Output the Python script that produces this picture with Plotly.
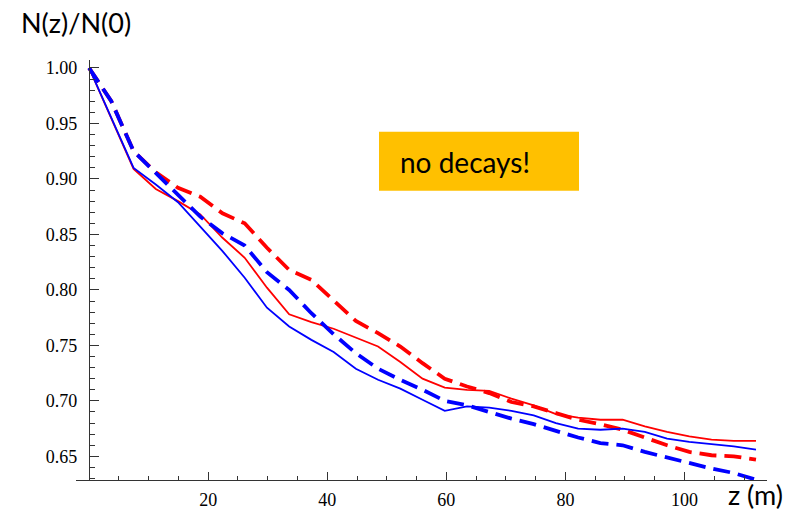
import plotly.graph_objects as go

# ---- data ----
z_m = [0, 3.73, 7.47, 11.2, 14.93, 18.67, 22.4, 26.13, 29.87, 33.6, 37.33,
       41.07, 44.8, 48.53, 52.27, 56.0, 59.73, 63.47, 67.2, 70.93, 74.67,
       78.4, 82.13, 85.87, 89.6, 93.33, 97.07, 100.8, 104.53, 108.27, 112.0]

blue_solid = [1.0, 0.955, 0.910, 0.895, 0.879, 0.857, 0.835, 0.811, 0.784, 0.767, 0.755,
              0.744, 0.729, 0.719, 0.711, 0.701, 0.691, 0.695, 0.694, 0.691, 0.687,
              0.680, 0.675, 0.674, 0.675, 0.672, 0.666, 0.663, 0.661, 0.659, 0.656]

red_solid = [1.0, 0.955, 0.909, 0.891, 0.880, 0.868, 0.847, 0.829, 0.802, 0.778, 0.771,
             0.765, 0.757, 0.749, 0.735, 0.720, 0.712, 0.710, 0.709, 0.702, 0.696,
             0.688, 0.685, 0.683, 0.683, 0.677, 0.672, 0.668, 0.665, 0.664, 0.664]

blue_dashed = [1.0, 0.970, 0.925, 0.905, 0.885, 0.866, 0.851, 0.840, 0.816, 0.800, 0.779,
               0.760, 0.743, 0.729, 0.719, 0.710, 0.700, 0.696, 0.690, 0.684, 0.679,
               0.673, 0.667, 0.662, 0.660, 0.654, 0.649, 0.644, 0.639, 0.635, 0.629]

red_dashed = [1.0, 0.970, 0.925, 0.906, 0.892, 0.884, 0.869, 0.860, 0.838, 0.818, 0.809,
              0.790, 0.772, 0.761, 0.749, 0.734, 0.720, 0.713, 0.707, 0.699, 0.695,
              0.689, 0.683, 0.679, 0.674, 0.667, 0.660, 0.654, 0.651, 0.650, 0.647]

x_ticks = [20, 40, 60, 80, 100]
y_ticks = [0.65, 0.70, 0.75, 0.80, 0.85, 0.90, 0.95, 1.00]
y_ticktext = ["0.65", "0.70", "0.75", "0.80", "0.85", "0.90", "0.95", "1.00"]

# ---- layout constants ----
W, H = 800, 513
ML, MR, MT, MB = 76, 33, 60, 33
XR = [-2.2, 113.85]
YR = [0.6287, 1.0072]
PW = W - ML - MR
PH = H - MT - MB


def px_to_paper(px, py):
    return (px - ML) / PW, (H - MB - py) / PH


fig = go.Figure()
fig.add_trace(go.Scatter(x=z_m, y=red_solid, mode="lines",
                         line=dict(color="#FF0000", width=1.8)))
fig.add_trace(go.Scatter(x=z_m, y=red_dashed, mode="lines",
                         line=dict(color="#FF0000", width=3.8, dash="17px,8px")))
fig.add_trace(go.Scatter(x=z_m, y=blue_solid, mode="lines",
                         line=dict(color="#0000FF", width=1.8)))
fig.add_trace(go.Scatter(x=z_m, y=blue_dashed, mode="lines",
                         line=dict(color="#0000FF", width=3.8, dash="17px,8px")))

tick_font = dict(family="'Liberation Serif', 'Times New Roman', serif", size=18, color="black")
axis_col = "#333"

x_minor = [v for v in range(5, 115, 5) if v % 20 != 0]
y_minor = [round(0.63 + 0.01 * i, 2) for i in range(38)]

fig.update_layout(
    width=W, height=H, autosize=False,
    margin=dict(l=ML, r=MR, t=MT, b=MB, autoexpand=False),
    paper_bgcolor="white", plot_bgcolor="white",
    showlegend=False,
    xaxis=dict(range=XR, showgrid=False, zeroline=False, automargin=False,
               showline=True, linecolor=axis_col, linewidth=1.3,
               tickmode="array", tickvals=x_ticks,
               ticks="inside", ticklen=8, tickwidth=1.1, tickcolor=axis_col,
               tickfont=tick_font, ticklabelstandoff=3,
               minor=dict(tickmode="array", tickvals=x_minor, ticks="inside",
                          ticklen=4, tickwidth=1, tickcolor=axis_col)),
    yaxis=dict(range=YR, showgrid=False, zeroline=False, automargin=False,
               anchor="free", position=(0 - XR[0]) / (XR[1] - XR[0]),
               showline=True, linecolor=axis_col, linewidth=1.3,
               tickmode="array", tickvals=y_ticks, ticktext=y_ticktext,
               ticks="inside", ticklen=9, tickwidth=1.1, tickcolor=axis_col,
               tickfont=tick_font, ticklabelstandoff=8,
               minor=dict(tickmode="array", tickvals=y_minor, ticks="inside",
                          ticklen=5, tickwidth=1, tickcolor=axis_col)),
)

# orange box
x0, y0 = px_to_paper(379, 190.7)
x1, y1 = px_to_paper(579, 131.7)
fig.add_shape(type="rect", xref="paper", yref="paper", x0=x0, y0=y0, x1=x1, y1=y1,
              fillcolor="#FFC000", line=dict(width=0), layer="above")

label_font = "Lato"
ax, ay = px_to_paper(398, 162)
fig.add_annotation(text="no decays!", xref="paper", yref="paper", x=ax, y=ay,
                   xanchor="left", yanchor="middle", showarrow=False,
                   font=dict(family=label_font, size=28, color="black"))

ax, ay = px_to_paper(18.5, 22)
fig.add_annotation(text="N(z)/N(0)", xref="paper", yref="paper", x=ax, y=ay,
                   xanchor="left", yanchor="middle", showarrow=False,
                   font=dict(family=label_font, size=27, color="black"))

ax, ay = px_to_paper(727, 494.5)
fig.add_annotation(text="z (m)", xref="paper", yref="paper", x=ax, y=ay,
                   xanchor="left", yanchor="middle", showarrow=False, borderpad=0,
                   font=dict(family=label_font, size=27, color="black"))

fig.write_html("out.html", config={"displayModeBar": False},
               post_script="document.body.style.margin='0';document.body.style.padding='0';")
